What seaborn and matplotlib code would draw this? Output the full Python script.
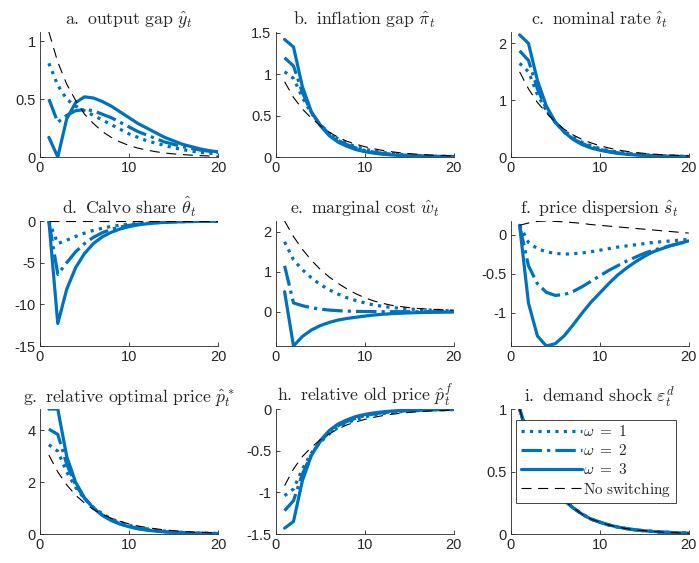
import numpy as np
import pandas as pd
import matplotlib
matplotlib.use("Agg")
import matplotlib.pyplot as plt
import seaborn as sns
from matplotlib.ticker import FuncFormatter

# periods
t = list(range(1, 21))

# a. output gap
y_w1 = [0.81, 0.62, 0.50, 0.44, 0.40, 0.36, 0.32, 0.28, 0.24, 0.20, 0.17, 0.14, 0.12, 0.10, 0.08, 0.065, 0.05, 0.04, 0.033, 0.027]
y_w2 = [0.50, 0.30, 0.36, 0.40, 0.41, 0.40, 0.37, 0.34, 0.30, 0.26, 0.22, 0.19, 0.16, 0.13, 0.11, 0.09, 0.075, 0.06, 0.05, 0.04]
y_w3 = [0.17, 0.0, 0.33, 0.47, 0.52, 0.51, 0.48, 0.44, 0.39, 0.34, 0.29, 0.25, 0.21, 0.17, 0.14, 0.11, 0.09, 0.07, 0.055, 0.045]
y_ns = [1.08, 0.82, 0.63, 0.49, 0.37, 0.29, 0.22, 0.17, 0.13, 0.10, 0.077, 0.06, 0.046, 0.035, 0.027, 0.021, 0.016, 0.012, 0.009, 0.007]

# b. inflation gap
pi_w1 = [1.03, 0.95, 0.72, 0.53, 0.39, 0.29, 0.22, 0.165, 0.125, 0.095, 0.072, 0.055, 0.042, 0.032, 0.025, 0.019, 0.015, 0.011, 0.009, 0.007]
pi_w2 = [1.20, 1.10, 0.78, 0.54, 0.39, 0.28, 0.20, 0.15, 0.11, 0.08, 0.06, 0.045, 0.035, 0.026, 0.02, 0.015, 0.012, 0.009, 0.007, 0.005]
pi_w3 = [1.42, 1.33, 0.85, 0.55, 0.38, 0.26, 0.18, 0.13, 0.09, 0.065, 0.047, 0.034, 0.025, 0.018, 0.013, 0.01, 0.007, 0.005, 0.004, 0.003]
pi_ns = [0.91, 0.72, 0.58, 0.47, 0.38, 0.30, 0.24, 0.19, 0.155, 0.125, 0.10, 0.08, 0.064, 0.051, 0.041, 0.033, 0.026, 0.021, 0.017, 0.013]

# c. nominal rate
i_w1 = [1.65, 1.50, 1.10, 0.82, 0.61, 0.46, 0.35, 0.26, 0.20, 0.15, 0.115, 0.088, 0.067, 0.051, 0.039, 0.03, 0.023, 0.018, 0.014, 0.01]
i_w2 = [1.87, 1.70, 1.20, 0.85, 0.61, 0.44, 0.32, 0.24, 0.18, 0.135, 0.10, 0.075, 0.057, 0.043, 0.033, 0.025, 0.019, 0.014, 0.011, 0.008]
i_w3 = [2.15, 2.00, 1.35, 0.90, 0.62, 0.44, 0.31, 0.22, 0.16, 0.12, 0.09, 0.065, 0.048, 0.036, 0.027, 0.02, 0.015, 0.011, 0.008, 0.006]
i_ns = [1.50, 1.20, 0.96, 0.78, 0.62, 0.49, 0.39, 0.31, 0.25, 0.20, 0.16, 0.125, 0.10, 0.08, 0.064, 0.051, 0.04, 0.032, 0.026, 0.02]

# d. Calvo share
th_w1 = [0, -2.7, -2.3, -1.85, -1.45, -1.12, -0.86, -0.65, -0.5, -0.38, -0.29, -0.22, -0.17, -0.13, -0.1, -0.075, -0.057, -0.043, -0.033, -0.025]
th_w2 = [0, -6.4, -5.0, -3.7, -2.7, -1.95, -1.4, -1.0, -0.72, -0.52, -0.37, -0.27, -0.19, -0.14, -0.1, -0.07, -0.05, -0.036, -0.026, -0.02]
th_w3 = [0, -12.3, -8.2, -5.6, -3.9, -2.7, -1.9, -1.35, -0.95, -0.67, -0.47, -0.33, -0.23, -0.16, -0.11, -0.08, -0.06, -0.04, -0.03, -0.02]
th_ns = [0] * 20

# e. marginal cost
w_w1 = [1.75, 1.30, 1.05, 0.85, 0.68, 0.55, 0.44, 0.35, 0.28, 0.22, 0.17, 0.135, 0.105, 0.085, 0.067, 0.053, 0.042, 0.034, 0.027, 0.022]
w_w2 = [1.15, 0.22, 0.15, 0.10, 0.065, 0.04, 0.025, 0.015, 0.008, 0.004, 0.002, 0.0, 0.0, 0.0, 0.0, 0.0, 0.0, 0.0, 0.0, 0.0]
w_w3 = [0.50, -0.86, -0.62, -0.46, -0.35, -0.27, -0.21, -0.17, -0.14, -0.11, -0.085, -0.065, -0.05, -0.04, -0.03, -0.024, -0.018, -0.014, -0.011, -0.008]
w_ns = [2.27, 1.88, 1.56, 1.29, 1.06, 0.87, 0.71, 0.57, 0.45, 0.35, 0.27, 0.21, 0.16, 0.13, 0.10, 0.08, 0.065, 0.055, 0.045, 0.04]

# f. price dispersion
s_w1 = [0.12, -0.10, -0.18, -0.22, -0.24, -0.25, -0.245, -0.235, -0.22, -0.20, -0.18, -0.16, -0.145, -0.13, -0.115, -0.10, -0.09, -0.08, -0.07, -0.06]
s_w2 = [0.12, -0.40, -0.63, -0.74, -0.78, -0.77, -0.73, -0.67, -0.60, -0.53, -0.46, -0.40, -0.34, -0.29, -0.24, -0.20, -0.17, -0.14, -0.11, -0.09]
s_w3 = [0.12, -0.88, -1.30, -1.43, -1.40, -1.30, -1.16, -1.01, -0.87, -0.75, -0.63, -0.52, -0.43, -0.35, -0.28, -0.22, -0.18, -0.14, -0.11, -0.08]
s_ns = [0.12, 0.15, 0.17, 0.175, 0.17, 0.165, 0.155, 0.145, 0.13, 0.12, 0.11, 0.10, 0.09, 0.08, 0.07, 0.06, 0.05, 0.04, 0.03, 0.02]

# g. relative optimal price
ps_w1 = [3.45, 3.20, 2.40, 1.80, 1.36, 1.03, 0.78, 0.59, 0.45, 0.34, 0.26, 0.20, 0.15, 0.115, 0.088, 0.067, 0.051, 0.039, 0.03, 0.023]
ps_w2 = [4.05, 3.85, 2.70, 1.90, 1.38, 1.01, 0.74, 0.55, 0.41, 0.30, 0.22, 0.165, 0.12, 0.09, 0.068, 0.05, 0.038, 0.028, 0.021, 0.016]
ps_w3 = [4.83, 4.83, 3.00, 2.00, 1.40, 1.00, 0.72, 0.52, 0.38, 0.28, 0.20, 0.15, 0.11, 0.08, 0.06, 0.045, 0.033, 0.025, 0.018, 0.013]
ps_ns = [3.05, 2.40, 1.90, 1.50, 1.20, 0.95, 0.76, 0.61, 0.49, 0.39, 0.31, 0.25, 0.20, 0.16, 0.13, 0.10, 0.08, 0.065, 0.052, 0.042]

# h. relative old price
pf_w1 = [-1.04, -0.96, -0.72, -0.53, -0.40, -0.30, -0.22, -0.165, -0.125, -0.095, -0.072, -0.055, -0.042, -0.032, -0.025, -0.019, -0.015, -0.011, -0.009, -0.007]
pf_w2 = [-1.22, -1.10, -0.78, -0.55, -0.39, -0.28, -0.20, -0.15, -0.11, -0.08, -0.06, -0.045, -0.034, -0.026, -0.02, -0.015, -0.012, -0.009, -0.007, -0.005]
pf_w3 = [-1.43, -1.35, -0.86, -0.56, -0.38, -0.26, -0.18, -0.13, -0.09, -0.065, -0.047, -0.034, -0.025, -0.018, -0.013, -0.01, -0.007, -0.005, -0.004, -0.003]
pf_ns = [-0.92, -0.72, -0.57, -0.46, -0.37, -0.30, -0.24, -0.19, -0.155, -0.125, -0.10, -0.08, -0.064, -0.051, -0.041, -0.033, -0.026, -0.021, -0.017, -0.013]

# i. demand shock (same for every case)
eps = [1.0, 0.77, 0.59, 0.46, 0.35, 0.27, 0.21, 0.16, 0.12, 0.095, 0.073, 0.056, 0.043, 0.033, 0.026, 0.02, 0.015, 0.012, 0.009, 0.007]

titles = [r'$\mathrm{a.\ output\ gap}\ \hat{y}_t$',
          r'$\mathrm{b.\ inflation\ gap}\ \hat{\pi}_t$',
          r'$\mathrm{c.\ nominal\ rate}\ \hat{\imath}_t$',
          r'$\mathrm{d.\ Calvo\ share}\ \hat{\theta}_t$',
          r'$\mathrm{e.\ marginal\ cost}\ \hat{w}_t$',
          r'$\mathrm{f.\ price\ dispersion}\ \hat{s}_t$',
          r'$\mathrm{g.\ relative\ optimal\ price}\ \hat{p}_t^*$',
          r'$\mathrm{h.\ relative\ old\ price}\ \hat{p}_t^f$',
          r'$\mathrm{i.\ demand\ shock}\ \varepsilon_t^d$']
series = [(y_w1, y_w2, y_w3, y_ns), (pi_w1, pi_w2, pi_w3, pi_ns), (i_w1, i_w2, i_w3, i_ns),
          (th_w1, th_w2, th_w3, th_ns), (w_w1, w_w2, w_w3, w_ns), (s_w1, s_w2, s_w3, s_ns),
          (ps_w1, ps_w2, ps_w3, ps_ns), (pf_w1, pf_w2, pf_w3, pf_ns), (eps, eps, eps, eps)]
ylims = [(0, 1.08), (0, 1.51), (0, 2.2), (-15, 0), (-0.86, 2.27), (-1.43, 0.175),
         (0, 4.83), (-1.5, 0), (0, 1.0)]
yticks = [[0, 0.5, 1], [0, 0.5, 1, 1.5], [0, 1, 2], [-15, -10, -5, 0], [0, 1, 2],
          [-1, -0.5, 0], [0, 2, 4], [-1.5, -1, -0.5, 0], [0, 0.5, 1]]
labels = [r'$\omega\ =\ 1$', r'$\omega\ =\ 2$', r'$\omega\ =\ 3$', r'$\mathrm{No\ switching}$']

sns.set_style("ticks")
plt.rcParams['font.family'] = ['Liberation Sans', 'DejaVu Sans']
plt.rcParams['mathtext.fontset'] = 'cm'
plt.rcParams['axes.unicode_minus'] = False

blue = '#0072BD'
styles = [dict(color=blue, linestyle=':', linewidth=2.3),
          dict(color=blue, linestyle='-.', linewidth=2.3),
          dict(color=blue, linestyle='-', linewidth=2.3),
          dict(color='black', linestyle=(0, (9, 6)), linewidth=0.8)]

fig = plt.figure(figsize=(6.99, 5.63), dpi=100)
lefts = [0.0572, 0.3944, 0.7306]
bottoms = [0.7211, 0.3854, 0.0515]
W, H = 0.2547, 0.222

fmt = FuncFormatter(lambda v, p: ('%g' % v))

for k in range(9):
    r, c = divmod(k, 3)
    ax = fig.add_axes([lefts[c], bottoms[r], W, H])
    for vals, st, lab in zip(series[k], styles, labels):
        df = pd.DataFrame({'t': t, 'v': vals})
        sns.lineplot(data=df, x='t', y='v', ax=ax, label=lab, legend=False, **st)
    ax.set_xlim(0, 20)
    ax.set_ylim(*ylims[k])
    ax.set_xticks([0, 10, 20])
    ax.set_yticks(yticks[k])
    ax.xaxis.set_major_formatter(fmt)
    ax.yaxis.set_major_formatter(fmt)
    ax.set_xlabel('')
    ax.set_ylabel('')
    ax.tick_params(direction='in', length=3, width=0.6, labelsize=10.5,
                   colors='#262626', pad=3)
    for sp in ['left', 'bottom']:
        ax.spines[sp].set_linewidth(0.6)
        ax.spines[sp].set_color('#262626')
    sns.despine(ax=ax)
    ax.set_title(titles[k], fontsize=12.8, pad=5)
    if k == 8:
        leg = ax.legend(loc='upper left', bbox_to_anchor=(0.03, 0.915), fontsize=11,
                        handlelength=4.0, frameon=True, fancybox=False,
                        edgecolor='#262626', framealpha=1, borderpad=0.3,
                        labelspacing=0.25, handletextpad=0.1, borderaxespad=0)
        leg.get_frame().set_linewidth(0.6)

fig.savefig('out.png', dpi=100)
